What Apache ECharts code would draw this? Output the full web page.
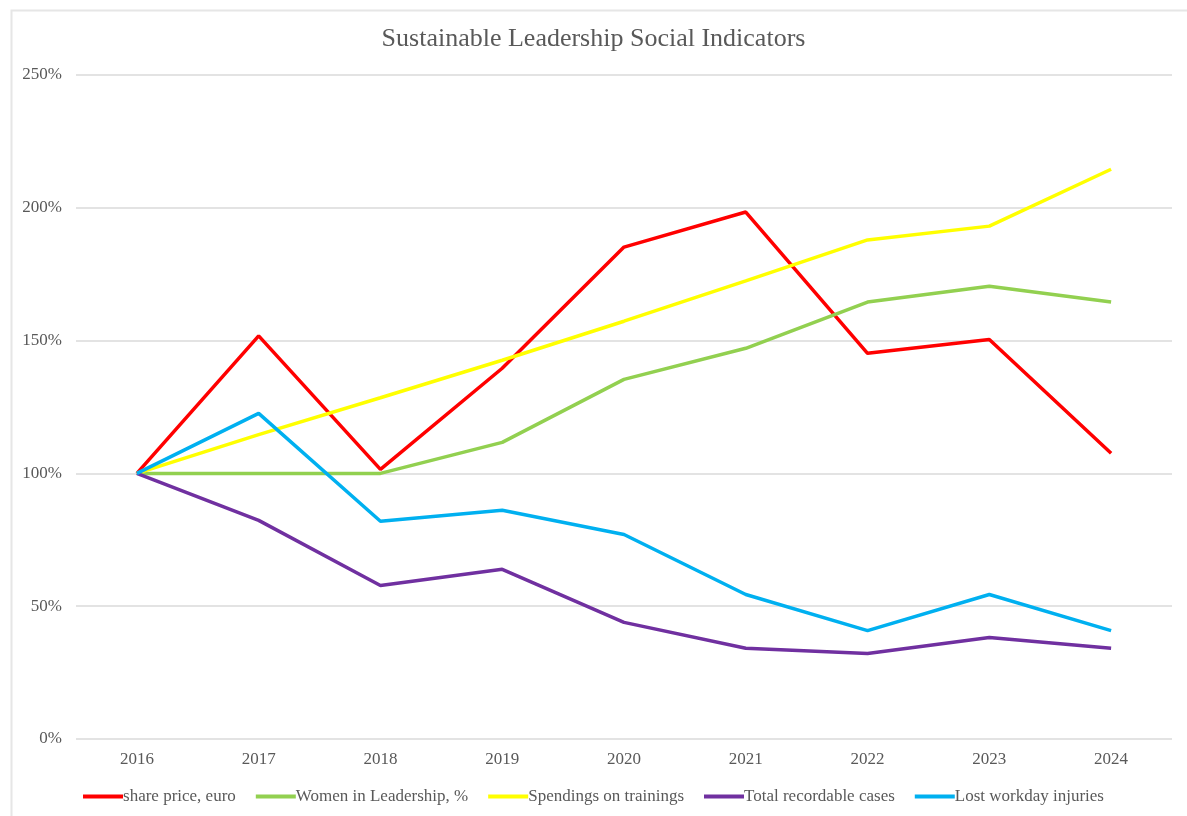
<!DOCTYPE html>
<html>
<head>
<meta charset="utf-8">
<title>Sustainable Leadership Social Indicators</title>
<script src="https://cdn.jsdelivr.net/npm/echarts@6/dist/echarts.min.js"></script>
<style>
  html, body { margin: 0; padding: 0; background: #fff; }
  #chart { width: 1187px; height: 816px; }
</style>
</head>
<body>
<div id="chart"></div>
<script>
// years on the x axis
const years = ['2016', '2017', '2018', '2019', '2020', '2021', '2022', '2023', '2024']

// values in % of 2016 level
const sharePrice = [100, 151.8, 101.5, 139.6, 185.2, 198.4, 145.2, 150.4, 107.6]
const womenLeadership = [100, 100, 100, 111.7, 135.4, 147.1, 164.5, 170.5, 164.5]
const trainingSpend = [100, 114.6, 128.5, 142.6, 157.3, 172.5, 187.9, 193.1, 214.5]
const recordableCases = [100, 82.3, 57.8, 63.9, 43.9, 34.2, 32.2, 38.2, 34.2]
const lostWorkday = [100, 122.6, 82, 86.1, 77, 54.4, 40.8, 54.4, 40.8]

const serif = '"Liberation Serif", "DejaVu Serif", serif'
const textColor = '#595959'

// build line series
function line(name, data, color) {
  return {
    name: name,
    type: 'line',
    data: data,
    symbol: 'none',
    lineStyle: { width: 3.5, color: color },
    itemStyle: { color: color }
  }
}

const chart = echarts.init(document.getElementById('chart'))
chart.setOption({
  animation: false,
  backgroundColor: '#fff',
  graphic: [{
    type: 'rect',
    left: 9,
    top: 8,
    shape: { width: 1200, height: 830 },
    style: { fill: 'none', stroke: '#e6e6e6', lineWidth: 2 }
  }],
  title: {
    text: 'Sustainable Leadership Social Indicators',
    left: 'center',
    top: 21,
    textStyle: { fontFamily: serif, fontSize: 26, fontWeight: 'normal', color: textColor }
  },
  legend: {
    bottom: 6,
    left: 'center',
    itemWidth: 40,
    itemHeight: 4,
    itemGap: 20,
    icon: 'rect',
    textStyle: { fontFamily: serif, fontSize: 17, color: textColor, padding: [0, 0, 0, -5] }
  },
  grid: { left: 76, right: 15, top: 75, bottom: 77 },
  xAxis: {
    type: 'category',
    data: years,
    boundaryGap: true,
    axisLine: { show: false },
    axisTick: { show: false },
    axisLabel: { fontFamily: serif, fontSize: 17, color: textColor, margin: 12 }
  },
  yAxis: {
    type: 'value',
    min: 0,
    max: 250,
    interval: 50,
    axisLabel: {
      fontFamily: serif, fontSize: 17, color: textColor, margin: 14,
      formatter: '{value}%'
    },
    splitLine: { lineStyle: { color: '#e3e3e3', width: 2 } }
  },
  series: [
    line('share price, euro', sharePrice, '#FF0000'),
    line('Women in Leadership, %', womenLeadership, '#92D050'),
    line('Spendings on trainings', trainingSpend, '#FFFF00'),
    line('Total recordable cases', recordableCases, '#7030A0'),
    line('Lost workday injuries', lostWorkday, '#00B0F0')
  ]
})
</script>
</body>
</html>
